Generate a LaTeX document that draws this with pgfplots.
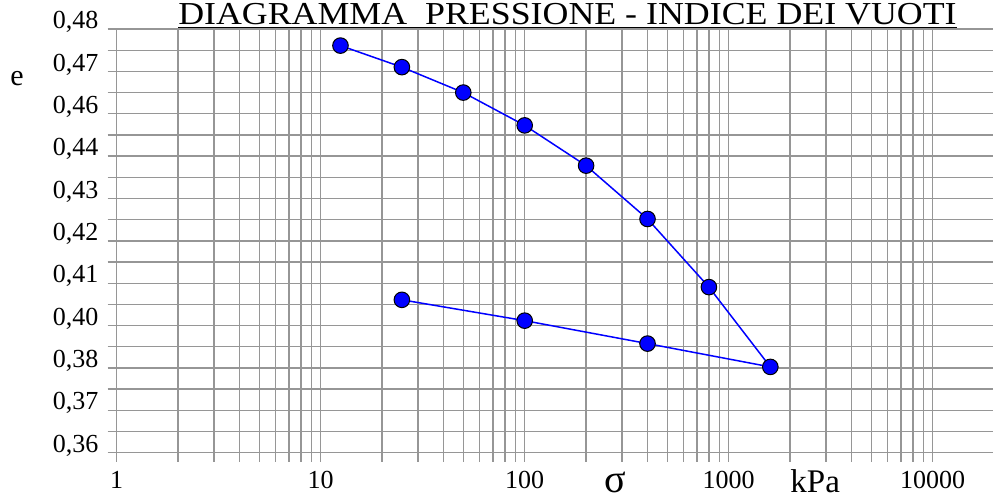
\documentclass[border=0pt]{standalone}
\usepackage{fontspec}
\setmainfont{Liberation Serif}
\usepackage{pgfplots}
\pgfplotsset{compat=1.18}
\definecolor{gridgray}{RGB}{150,150,150}
\definecolor{ptblue}{RGB}{0,0,255}
\begin{document}
\begin{tikzpicture}
\useasboundingbox (0,0) rectangle (496.5pt,250pt);
\begin{axis}[
  at={(58.35pt,23.65pt)}, anchor=south west,
  scale only axis, width=438.7pt, height=211.85pt,
  xmode=log, xmin=1, xmax=20000, ymin=0.36, ymax=0.48,
  xtick={1,10,100,1000,10000}, xticklabels={1,10,100,1000,10000},
  minor xtick={2,3,4,5,6,7,8,9,20,30,40,50,60,70,80,90,200,300,400,500,600,700,800,900,2000,3000,4000,5000,6000,7000,8000,9000},
  ytick={0.36,0.372,0.384,0.396,0.408,0.42,0.432,0.444,0.456,0.468,0.48},
  yticklabels={{0,36},{0,37},{0,38},{0,40},{0,41},{0,42},{0,43},{0,44},{0,46},{0,47},{0,48}},
  minor ytick={0.366,0.378,0.39,0.402,0.414,0.426,0.438,0.45,0.462,0.474},
  grid=both,
  major grid style={gridgray, line width=0.65pt},
  minor grid style={gridgray, line width=0.65pt},
  axis line style={gridgray, line width=0.65pt},
  tick style={gridgray, line width=0.65pt},
  tick align=outside, tick pos=left,
  major tick length=4.5pt, minor tick length=4.5pt,
  ticklabel style={font=\fontsize{13}{15}\selectfont, text=black},
  xticklabel style={yshift=-1.2pt},
  yticklabel style={xshift=-1.2pt, yshift=3.5pt},
]
\addplot[ptblue, line width=0.75pt, mark=*, mark size=3.9pt,
  mark options={fill=ptblue, draw=black, line width=0.5pt}]
  coordinates {(12.5,0.4753)(25,0.4692)(50,0.4620)(100,0.4527)(200,0.4413)(400,0.4262)(800,0.4069)(1600,0.3843)(400,0.3909)(100,0.3974)(25,0.4033)};
\end{axis}
\node[anchor=base, font=\fontsize{16}{18}\selectfont, inner sep=0, xscale=1.12] at (283.75pt,238pt) {\underline{DIAGRAMMA\ \ PRESSIONE - INDICE DEI VUOTI}};
\node[anchor=base, font=\fontsize{15}{17}\selectfont, inner sep=0] at (8.5pt,207.5pt) {e};
\node[anchor=base west, font=\fontsize{20}{22}\selectfont, inner sep=0] at (302pt,4pt) {σ};
\node[anchor=base west, font=\fontsize{16.5}{18}\selectfont, inner sep=0] at (395pt,4pt) {kPa};
\end{tikzpicture}
\end{document}
